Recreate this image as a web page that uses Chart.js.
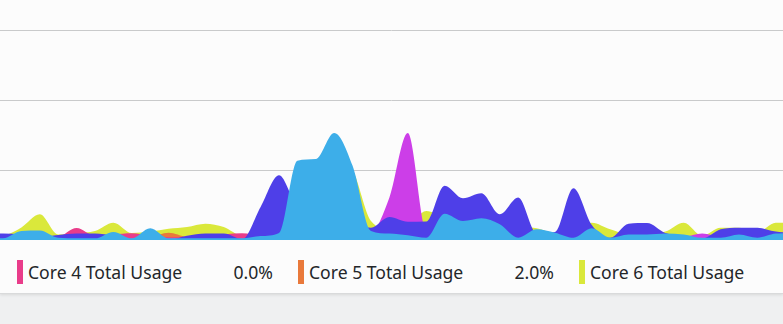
<!DOCTYPE html>
<html>
<head>
<meta charset="utf-8">
<script src="https://cdn.jsdelivr.net/npm/chart.js@4/dist/chart.umd.min.js"></script>
<style>
  html, body { margin: 0; padding: 0; width: 783px; height: 324px; overflow: hidden; background: #eff0f1; font-family: 'Noto Sans', sans-serif; }
  #panel { position: absolute; left: 0; top: 0; width: 783px; height: 293px; background: #fcfcfc; border-bottom: 1px solid #d9dadb; box-shadow: 0 1px 3px rgba(0,0,0,0.10); overflow: hidden; }
  #plot { position: absolute; left: 0; top: -40px; width: 783px; height: 280px; }
  #legend { position: absolute; left: 17px; top: 260px; height: 24px; }
  .item { position: absolute; top: 0; width: 256px; height: 24px; }
  .swatch { position: absolute; left: 0; top: 0; width: 6px; height: 24px; }
  .name, .value { position: absolute; top: 0; line-height: 24px; font-size: 17.6px; color: #232629; white-space: nowrap; }
  .name { left: 11px; }
  .value { right: 0; }
</style>
</head>
<body>
<div id="panel">
  <div id="plot"><canvas id="chart"></canvas></div>
  <div id="legend"></div>
</div>
<script>
// Sample index along the history window (one sample per update tick)
const samples = [0,1,2,3,4,5,6,7,8,9,10,11,12,13,14,15,16,17,18,19,20,21,22,23,24,25,26,27,28,29,30,31,32,33,34,35,36,37,38,39,40,41,42,43,44];

// Per-core usage in percent
const core1 = [0.6,0.6,3.2,3.4,0.8,0.6,0.6,2.9,0.6,4.2,0.6,0.6,0.6,0.6,0.6,1.4,2.5,28.3,28.9,38.2,26.5,3.2,2.3,1.7,0.8,9.4,6.8,7.8,5.6,0.8,3.8,2.6,0.8,4.2,0.8,2.0,2.0,2.3,2.0,0.8,0.8,2.0,0.8,2.3,2.5];
const core2 = [2.3,2.3,2.0,1.0,1.8,2.3,2.3,1.5,0.0,0.5,0.0,1.5,2.3,2.3,0.3,11.8,23.1,12.0,10.0,8.0,6.0,4.4,8.2,6.5,6.6,19.4,14.9,16.7,9.2,15.2,2.5,2.9,18.5,5.4,0.8,5.8,6.1,2.5,1.5,0.5,3.8,4.4,4.4,3.0,2.5];
const core3 = [0.5,0.5,0.5,0.5,0.5,0.5,0.5,0.5,0.5,0.5,0.5,0.5,0.5,0.5,0.5,0.5,0.5,0.5,0.5,0.5,0.5,2.0,15.2,38.2,3.0,0.5,0.5,0.5,0.5,0.5,0.5,0.5,0.5,0.5,0.5,0.5,0.5,0.5,1.0,2.3,1.0,0.5,0.5,0.5,0.5];
const core4 = [0.5,0.5,0.5,0.5,1.0,4.3,1.5,2.0,2.4,1.5,1.0,1.0,1.0,2.0,2.4,1.5,0.5,0.5,0.5,0.5,0.5,0.5,0.5,0.5,0.5,0.5,0.5,0.5,0.5,0.5,0.5,0.5,0.5,0.5,0.5,0.5,0.5,0.5,0.5,0.5,0.5,0.5,0.3,0.0,0.0];
const core5 = [0.5,0.5,0.5,0.5,0.5,0.5,0.5,0.5,0.5,1.0,2.6,1.0,0.5,0.5,0.5,0.5,0.5,0.5,0.5,0.5,0.5,0.5,0.5,0.5,0.5,0.5,0.5,0.5,0.5,0.5,0.5,0.5,0.5,0.5,0.5,0.5,0.5,0.5,0.5,0.5,0.5,1.0,1.5,2.0,2.0];
const core6 = [1.0,1.5,4.5,9.2,2.0,2.5,3.2,6.2,2.5,3.0,4.0,4.6,5.8,4.6,1.5,2.0,3.0,10.0,20.0,30.0,25.0,6.8,4.0,5.0,10.4,8.0,5.0,5.0,5.0,5.0,4.2,2.5,3.0,6.2,3.8,2.0,2.0,3.0,6.2,1.5,4.4,4.4,2.8,6.2,6.0];

const coreNames = ['Core 1 Total Usage','Core 2 Total Usage','Core 3 Total Usage','Core 4 Total Usage','Core 5 Total Usage','Core 6 Total Usage'];
const coreColors = ['#3daee9','#4e3fe8','#cc3ee8','#e93c8a','#e9793b','#dae83b'];
const coreSeries = [core1, core2, core3, core4, core5, core6];
const legendCores = [3, 4, 5];
const yTicks = [0, 25, 50, 75, 100];

const datasets = coreSeries.map((values, i) => ({
  label: coreNames[i],
  data: values,
  backgroundColor: coreColors[i],
  borderColor: 'rgba(0,0,0,0)',
  borderWidth: 0,
  pointRadius: 0,
  fill: 'origin',
  cubicInterpolationMode: 'monotone'
}));

new Chart(document.getElementById('chart'), {
  type: 'line',
  data: { labels: samples, datasets },
  options: {
    responsive: true,
    maintainAspectRatio: false,
    animation: false,
    devicePixelRatio: 1,
    layout: { padding: 0 },
    plugins: { legend: { display: false }, tooltip: { enabled: false } },
    scales: {
      x: { type: 'linear', display: false, min: 0.837, max: 43.391 },
      y: {
        min: 0, max: 100,
        afterBuildTicks: (scale) => { scale.ticks = yTicks.map(v => ({ value: v })); },
        ticks: { display: false },
        border: { display: false },
        grid: { color: '#c9cacb', lineWidth: 1, drawTicks: false }
      }
    }
  }
});

// Legend row: colour bar, name and the latest reading of each core
const legend = document.getElementById('legend');
legendCores.forEach((c, k) => {
  const item = document.createElement('div');
  item.className = 'item';
  item.style.left = (k * 281) + 'px';
  const sw = document.createElement('div');
  sw.className = 'swatch';
  sw.style.background = coreColors[c];
  const name = document.createElement('div');
  name.className = 'name';
  name.textContent = coreNames[c];
  item.appendChild(sw);
  item.appendChild(name);
  const series = coreSeries[c];
  const last = series[series.length - 1];
  if (k * 281 + 256 + 17 <= 783) {
    const val = document.createElement('div');
    val.className = 'value';
    val.textContent = last.toFixed(1) + '%';
    item.appendChild(val);
  }
  legend.appendChild(item);
});
</script>
</body>
</html>
